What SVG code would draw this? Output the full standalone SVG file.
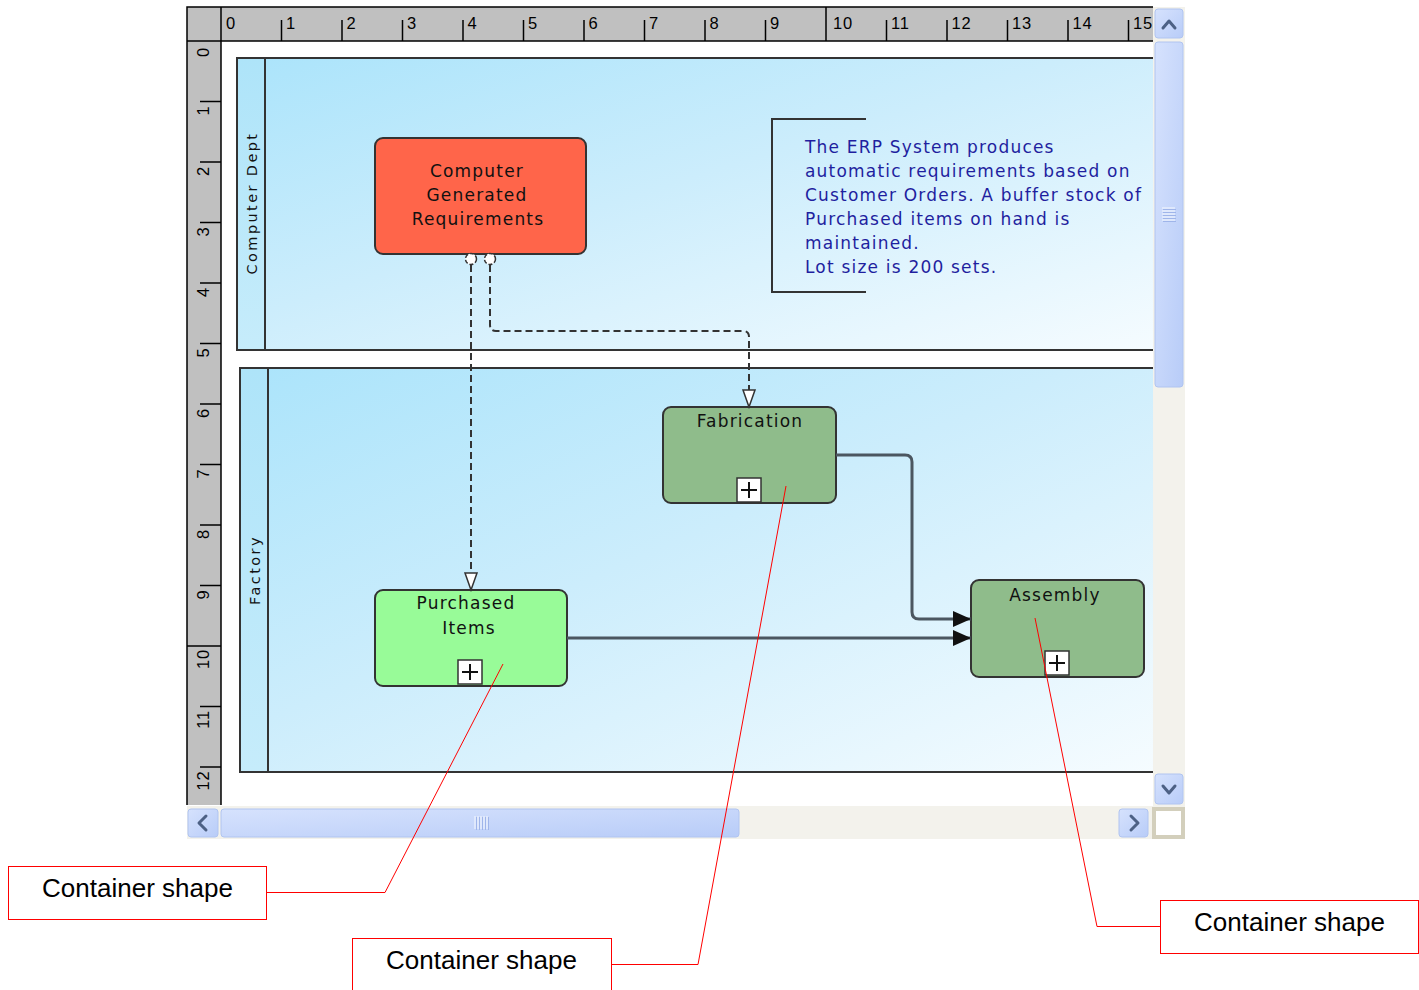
<svg xmlns="http://www.w3.org/2000/svg" width="1419" height="990" viewBox="0 0 1419 990">
<defs>
<style>
.ruler{fill:#c0c0c0}
.rline{stroke:#000;stroke-width:1.5;fill:none}
.tick{stroke:#000;stroke-width:1.5}
.rnum{font-family:"Liberation Sans",Arial,sans-serif;font-size:16.5px;letter-spacing:0.8px;fill:#000}
.lane{fill:url(#laneG);stroke:#333;stroke-width:2}
.hdr{fill:url(#hdrG)}
.lbl{font-family:"DejaVu Sans",sans-serif;font-size:14.5px;letter-spacing:2.4px;fill:#111;text-anchor:middle}
.node{stroke:#333;stroke-width:2}
.ntxt{font-family:"DejaVu Sans",sans-serif;font-size:17px;letter-spacing:1.2px;fill:#111;text-anchor:middle}
.ann{font-family:"DejaVu Sans",sans-serif;font-size:17px;letter-spacing:1.2px;fill:#1f1f9f}
.plus{fill:#fff;stroke:#333;stroke-width:1.5}
.pl{stroke:#111;stroke-width:2}
.dash{fill:none;stroke:#333;stroke-width:2;stroke-dasharray:7 4}
.flow{fill:none;stroke:#4b5660;stroke-width:3}
.btn{fill:url(#btnG);stroke:#b0c4f0;stroke-width:1}
.chev{fill:none;stroke:#4d6185;stroke-width:3;stroke-linecap:round;stroke-linejoin:round}
.grip{stroke:#eef3fe;stroke-width:1.2}
.grip2{stroke:#9fb5ea;stroke-width:1}
.red{fill:none;stroke:#f00;stroke-width:1}
.call{font-family:"Liberation Sans",Arial,sans-serif;font-size:26px;fill:#000;text-anchor:middle}
</style>
<linearGradient id="laneG" x1="0" y1="0" x2="1" y2="1">
<stop offset="0" stop-color="#abe4fb"/>
<stop offset="0.45" stop-color="#ccedfc"/>
<stop offset="1" stop-color="#f6fcff"/>
</linearGradient>
<linearGradient id="hdrG" x1="0" y1="0" x2="0" y2="1">
<stop offset="0" stop-color="#aee4f9"/>
<stop offset="1" stop-color="#c6ecfb"/>
</linearGradient>
<linearGradient id="btnG" x1="0" y1="0" x2="1" y2="1">
<stop offset="0" stop-color="#d6e2fd"/>
<stop offset="1" stop-color="#b8ccf8"/>
</linearGradient>
<clipPath id="rclip"><rect x="187" y="0" width="966" height="45"/></clipPath>
<marker id="arrF" markerUnits="userSpaceOnUse" markerWidth="20" markerHeight="18" refX="19" refY="8" orient="auto"><path d="M1,0 L19,8 L1,16 z" fill="#111"/></marker>
<marker id="arrO" markerUnits="userSpaceOnUse" markerWidth="20" markerHeight="16" refX="18" refY="7" orient="auto"><path d="M1,1 L18,7 L1,13 z" fill="#fff" stroke="#333" stroke-width="1.5"/></marker>
</defs>

<rect x="0" y="0" width="1419" height="990" fill="#fff"/>

<!-- canvas -->
<rect x="221" y="41" width="932" height="764" fill="#fff"/>

<!-- lanes -->
<g id="lane-computer-dept">
<rect class="lane" x="237" y="58" width="930" height="292"/>
<rect class="hdr" x="238" y="59" width="27" height="290"/>
<line x1="265" y1="58" x2="265" y2="350" stroke="#333" stroke-width="2"/>
<text class="lbl" transform="translate(257,203) rotate(-90)">Computer Dept</text>
</g>
<g id="lane-factory">
<rect class="lane" x="240" y="368" width="930" height="404"/>
<rect class="hdr" x="241" y="369" width="27" height="402"/>
<line x1="268" y1="368" x2="268" y2="772" stroke="#333" stroke-width="2"/>
<text class="lbl" transform="translate(260,570) rotate(-90)">Factory</text>
</g>

<!-- annotation -->
<g id="annotation">
<path d="M866,119 L772,119 L772,292 L866,292" fill="none" stroke="#333" stroke-width="2"/>
<text class="ann" x="805" y="152.5">The ERP System produces</text>
<text class="ann" x="805" y="176.5">automatic requirements based on</text>
<text class="ann" x="805" y="200.5">Customer Orders. A buffer stock of</text>
<text class="ann" x="805" y="224.5">Purchased items on hand is</text>
<text class="ann" x="805" y="248.5">maintained.</text>
<text class="ann" x="805" y="272.5">Lot size is 200 sets.</text>
</g>

<!-- nodes -->
<g id="node-cgr">
<rect class="node" x="375" y="138" width="211" height="116" rx="8" fill="#ff654a"/>
<text class="ntxt" x="477" y="177">Computer</text>
<text class="ntxt" x="477" y="201">Generated</text>
<text class="ntxt" x="478" y="225">Requirements</text>
</g>
<g id="node-fabrication">
<rect class="node" x="663" y="407" width="173" height="96" rx="8" fill="#8fbc8b"/>
<text class="ntxt" x="750" y="427">Fabrication</text>
<rect class="plus" x="737" y="478" width="24" height="24"/>
<line class="pl" x1="741" y1="490" x2="757" y2="490"/><line class="pl" x1="749" y1="482" x2="749" y2="498"/>
</g>
<g id="node-purchased">
<rect class="node" x="375" y="590" width="192" height="96" rx="8" fill="#98fb98"/>
<text class="ntxt" x="466" y="609">Purchased</text>
<text class="ntxt" x="469" y="634">Items</text>
<rect class="plus" x="458" y="660" width="24" height="24"/>
<line class="pl" x1="462" y1="672" x2="478" y2="672"/><line class="pl" x1="470" y1="664" x2="470" y2="680"/>
</g>
<g id="node-assembly">
<rect class="node" x="971" y="580" width="173" height="97" rx="8" fill="#8fbc8b"/>
<text class="ntxt" x="1055" y="601">Assembly</text>
<rect class="plus" x="1045" y="651" width="24" height="24"/>
<line class="pl" x1="1049" y1="663" x2="1065" y2="663"/><line class="pl" x1="1057" y1="655" x2="1057" y2="671"/>
</g>

<!-- connectors -->
<g id="connectors">
<path class="dash" d="M471,265 L471,590" marker-end="url(#arrO)"/>
<path class="dash" d="M490,265 L490,325 Q490,331 496,331 L743,331 Q749,331 749,337 L749,407" marker-end="url(#arrO)"/>
<circle cx="471" cy="259" r="5.5" fill="#fff" stroke="#333" stroke-width="1.5" stroke-dasharray="4 2"/>
<circle cx="490" cy="259" r="5.5" fill="#fff" stroke="#333" stroke-width="1.5" stroke-dasharray="4 2"/>
<path class="flow" d="M836,455 L905,455 Q912,455 912,462 L912,612 Q912,619 919,619 L971,619" marker-end="url(#arrF)"/>
<path class="flow" d="M567,638 L971,638" marker-end="url(#arrF)"/>
</g>

<!-- rulers -->
<g id="rulers">
<rect class="ruler" x="187" y="7" width="966" height="34"/>
<rect class="ruler" x="187" y="41" width="34" height="764"/>
<g clip-path="url(#rclip)">
<line class="tick" x1="281.5" y1="20" x2="281.5" y2="41"/>
<line class="tick" x1="342" y1="20" x2="342" y2="41"/>
<line class="tick" x1="402.5" y1="20" x2="402.5" y2="41"/>
<line class="tick" x1="463" y1="20" x2="463" y2="41"/>
<line class="tick" x1="523.5" y1="20" x2="523.5" y2="41"/>
<line class="tick" x1="584" y1="20" x2="584" y2="41"/>
<line class="tick" x1="644.5" y1="20" x2="644.5" y2="41"/>
<line class="tick" x1="705" y1="20" x2="705" y2="41"/>
<line class="tick" x1="765.5" y1="20" x2="765.5" y2="41"/>
<line class="tick" x1="826" y1="7" x2="826" y2="41"/>
<line class="tick" x1="886.5" y1="20" x2="886.5" y2="41"/>
<line class="tick" x1="947" y1="20" x2="947" y2="41"/>
<line class="tick" x1="1007.5" y1="20" x2="1007.5" y2="41"/>
<line class="tick" x1="1068" y1="20" x2="1068" y2="41"/>
<line class="tick" x1="1128.5" y1="20" x2="1128.5" y2="41"/>
<text class="rnum" x="226" y="29">0</text>
<text class="rnum" x="286" y="29">1</text>
<text class="rnum" x="346.5" y="29">2</text>
<text class="rnum" x="407" y="29">3</text>
<text class="rnum" x="467.5" y="29">4</text>
<text class="rnum" x="528" y="29">5</text>
<text class="rnum" x="588.5" y="29">6</text>
<text class="rnum" x="649" y="29">7</text>
<text class="rnum" x="709.5" y="29">8</text>
<text class="rnum" x="770" y="29">9</text>
<text class="rnum" x="833" y="29">10</text>
<text class="rnum" x="891" y="29">11</text>
<text class="rnum" x="951.5" y="29">12</text>
<text class="rnum" x="1012" y="29">13</text>
<text class="rnum" x="1072.5" y="29">14</text>
<text class="rnum" x="1133" y="29">15</text>
</g>
<line class="tick" x1="200" y1="101.5" x2="221" y2="101.5"/>
<line class="tick" x1="200" y1="162" x2="221" y2="162"/>
<line class="tick" x1="200" y1="222.5" x2="221" y2="222.5"/>
<line class="tick" x1="200" y1="283" x2="221" y2="283"/>
<line class="tick" x1="200" y1="343.5" x2="221" y2="343.5"/>
<line class="tick" x1="200" y1="404" x2="221" y2="404"/>
<line class="tick" x1="200" y1="464.5" x2="221" y2="464.5"/>
<line class="tick" x1="200" y1="525" x2="221" y2="525"/>
<line class="tick" x1="200" y1="585.5" x2="221" y2="585.5"/>
<line class="tick" x1="187" y1="646" x2="221" y2="646"/>
<line class="tick" x1="200" y1="706.5" x2="221" y2="706.5"/>
<line class="tick" x1="200" y1="767" x2="221" y2="767"/>
<text class="rnum" text-anchor="end" transform="translate(209,47) rotate(-90)">0</text>
<text class="rnum" text-anchor="end" transform="translate(209,105.5) rotate(-90)">1</text>
<text class="rnum" text-anchor="end" transform="translate(209,166) rotate(-90)">2</text>
<text class="rnum" text-anchor="end" transform="translate(209,226.5) rotate(-90)">3</text>
<text class="rnum" text-anchor="end" transform="translate(209,287) rotate(-90)">4</text>
<text class="rnum" text-anchor="end" transform="translate(209,347.5) rotate(-90)">5</text>
<text class="rnum" text-anchor="end" transform="translate(209,408) rotate(-90)">6</text>
<text class="rnum" text-anchor="end" transform="translate(209,468.5) rotate(-90)">7</text>
<text class="rnum" text-anchor="end" transform="translate(209,529) rotate(-90)">8</text>
<text class="rnum" text-anchor="end" transform="translate(209,589.5) rotate(-90)">9</text>
<text class="rnum" text-anchor="end" transform="translate(209,649) rotate(-90)">10</text>
<text class="rnum" text-anchor="end" transform="translate(209,710) rotate(-90)">11</text>
<text class="rnum" text-anchor="end" transform="translate(209,770.5) rotate(-90)">12</text>
<path class="rline" d="M187,805 L187,7 L1153,7"/>
<line class="rline" x1="187" y1="41" x2="1153" y2="41"/>
<line class="rline" x1="221" y1="7" x2="221" y2="805"/>
</g>

<!-- scrollbars -->
<g id="scrollbars">
<rect x="1153" y="7" width="32" height="800" fill="#f3f2ec"/>
<rect x="187" y="806" width="966" height="33" fill="#f3f2ec"/>
<rect class="btn" x="1155" y="9" width="28" height="29" rx="3"/>
<polyline class="chev" points="1163,28 1169,21 1175,28"/>
<rect class="btn" x="1155" y="42" width="28" height="345" rx="3" fill="#c4d5fc"/>
<line class="grip" x1="1162" y1="208" x2="1175" y2="208"/>
<line class="grip" x1="1162" y1="211" x2="1175" y2="211"/>
<line class="grip" x1="1162" y1="214" x2="1175" y2="214"/>
<line class="grip" x1="1162" y1="217" x2="1175" y2="217"/>
<line class="grip" x1="1162" y1="220" x2="1175" y2="220"/>
<line class="grip2" x1="1163" y1="209.5" x2="1176" y2="209.5"/>
<line class="grip2" x1="1163" y1="212.5" x2="1176" y2="212.5"/>
<line class="grip2" x1="1163" y1="215.5" x2="1176" y2="215.5"/>
<line class="grip2" x1="1163" y1="218.5" x2="1176" y2="218.5"/>
<line class="grip2" x1="1163" y1="221.5" x2="1176" y2="221.5"/>
<rect class="btn" x="1155" y="774" width="28" height="30" rx="3"/>
<polyline class="chev" points="1163,786 1169,793 1175,786"/>
<rect class="btn" x="188" y="809" width="30" height="28" rx="3"/>
<polyline class="chev" points="206,816 199,823 206,830"/>
<rect class="btn" x="221" y="809" width="518" height="28" rx="3"/>
<line class="grip" x1="475" y1="816" x2="475" y2="829"/>
<line class="grip" x1="478" y1="816" x2="478" y2="829"/>
<line class="grip" x1="481" y1="816" x2="481" y2="829"/>
<line class="grip" x1="484" y1="816" x2="484" y2="829"/>
<line class="grip" x1="487" y1="816" x2="487" y2="829"/>
<line class="grip2" x1="476.5" y1="817" x2="476.5" y2="830"/>
<line class="grip2" x1="479.5" y1="817" x2="479.5" y2="830"/>
<line class="grip2" x1="482.5" y1="817" x2="482.5" y2="830"/>
<line class="grip2" x1="485.5" y1="817" x2="485.5" y2="830"/>
<line class="grip2" x1="488.5" y1="817" x2="488.5" y2="830"/>
<rect class="btn" x="1119" y="809" width="29" height="28" rx="3"/>
<polyline class="chev" points="1131,816 1138,823 1131,830"/>
<rect x="1152" y="807" width="33" height="32" fill="#d3cfbc"/>
<rect x="1156" y="811" width="25" height="24" fill="#fff"/>
</g>

<!-- callouts -->
<g id="callout-1">
<rect class="red" x="8.5" y="866.5" width="258" height="53"/>
<polyline class="red" points="266,892.5 385,892.5 503,664"/>
<text class="call" x="137.5" y="897">Container shape</text>
</g>
<g id="callout-2">
<rect class="red" x="352.5" y="938.5" width="259" height="52"/>
<polyline class="red" points="611,964.5 698,964.5 786,486"/>
<text class="call" x="481.5" y="969">Container shape</text>
</g>
<g id="callout-3">
<rect class="red" x="1160.5" y="900.5" width="258" height="53"/>
<polyline class="red" points="1160,926.5 1097,926.5 1035,618"/>
<text class="call" x="1289.5" y="931">Container shape</text>
</g>
</svg>
